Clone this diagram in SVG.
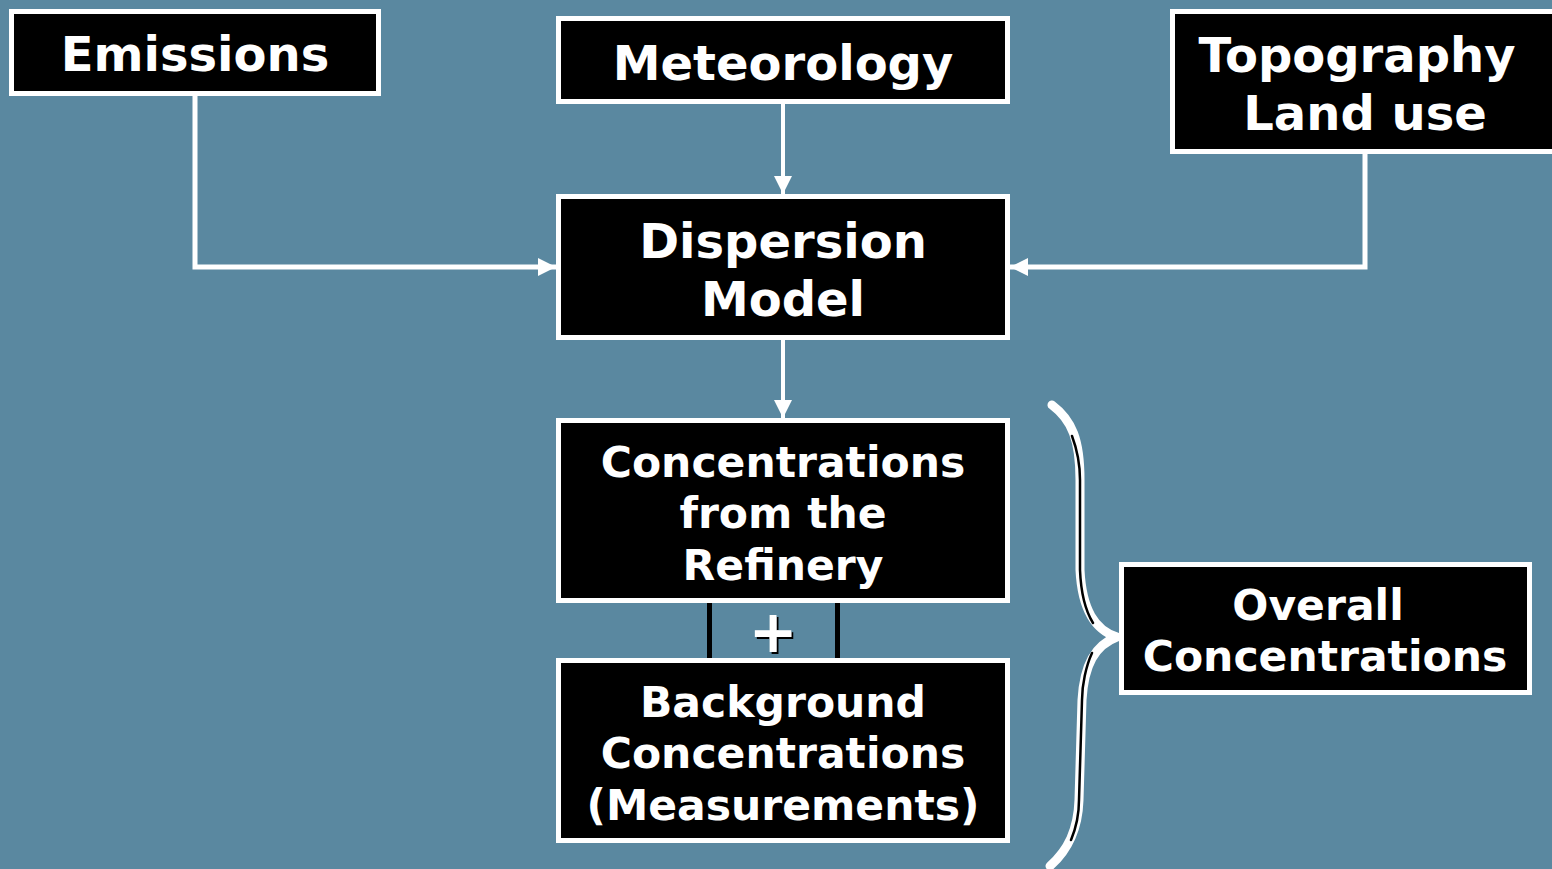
<svg xmlns="http://www.w3.org/2000/svg" width="1552" height="869" viewBox="0 0 1552 869">
<defs>
<style>
.box{fill:#000;stroke:#fff;stroke-width:5}
.t{font-family:"DejaVu Sans",Verdana,sans-serif;font-weight:bold;fill:#fff;text-anchor:middle}
.big{font-size:48px}
.med{font-size:42.5px}
.ln{fill:none;stroke:#fff;stroke-width:5}
</style>
<marker id="ah" markerWidth="18" markerHeight="18" refX="18" refY="9" orient="auto" markerUnits="userSpaceOnUse">
<path d="M0,0 L18,9 L0,18 Z" fill="#fff"/>
</marker>
<filter id="sh" x="-20%" y="-20%" width="140%" height="140%">
<feDropShadow dx="2" dy="2" stdDeviation="0" flood-color="#000"/>
</filter>
</defs>
<rect width="1552" height="869" fill="#5a88a0"/>
<g id="connectors">
<path class="ln" d="M195,96 L195,267 L556,267" marker-end="url(#ah)"/>
<path class="ln" d="M783,104 L783,194" marker-end="url(#ah)" style="stroke-width:4"/>
<path class="ln" d="M1365,154 L1365,267 L1010,267" marker-end="url(#ah)"/>
<path class="ln" d="M783,340 L783,418" marker-end="url(#ah)" style="stroke-width:4"/>
<path d="M709.5,597 L709.5,664 M837.5,597 L837.5,664" stroke="#000" stroke-width="5"/>
<text class="t" x="773" y="652" style="font-size:58px" filter="url(#sh)">+</text>
<path d="M1052,405 C1072,420 1080,440 1080,480 L1080,570 C1082,610 1095,630 1117,637 C1095,645 1084,665 1082,700 L1079,800 C1078,830 1068,850 1050,866" fill="none" stroke="#fff" stroke-width="9" stroke-linecap="round" stroke-linejoin="round"/>
<path d="M1072,436 C1078,452 1080,465 1080,480 L1080,570 C1081,595 1085,610 1093,623 M1092,653 C1086,666 1082,685 1082,700 L1079,800 C1079,815 1076,828 1071,840" fill="none" stroke="#000" stroke-width="2.5" stroke-linecap="round"/>
</g>
<g id="emissions">
<rect class="box" x="11.5" y="11.5" width="367" height="82"/>
<text class="t big" x="195" y="71">Emissions</text>
</g>
<g id="meteorology">
<rect class="box" x="558.5" y="18.5" width="449" height="83"/>
<text class="t big" x="783" y="80">Meteorology</text>
</g>
<g id="topography">
<rect class="box" x="1172.5" y="11.5" width="390" height="140"/>
<text class="t big" x="1357" y="72">Topography</text>
<text class="t big" x="1365" y="130">Land use</text>
</g>
<g id="dispersion">
<rect class="box" x="558.5" y="196.5" width="449" height="141"/>
<text class="t big" x="783" y="258">Dispersion</text>
<text class="t big" x="783" y="316">Model</text>
</g>
<g id="refinery">
<rect class="box" x="558.5" y="420.5" width="449" height="180"/>
<text class="t med" x="783" y="477">Concentrations</text>
<text class="t med" x="783" y="528">from the</text>
<text class="t med" x="783" y="580">Refinery</text>
</g>
<g id="background">
<rect class="box" x="558.5" y="660.5" width="449" height="180"/>
<text class="t med" x="783" y="717">Background</text>
<text class="t med" x="783" y="768">Concentrations</text>
<text class="t med" x="783" y="820">(Measurements)</text>
</g>
<g id="overall">
<rect class="box" x="1121.5" y="564.5" width="408" height="128"/>
<text class="t med" x="1318" y="620">Overall</text>
<text class="t med" x="1325" y="671">Concentrations</text>
</g>
</svg>
